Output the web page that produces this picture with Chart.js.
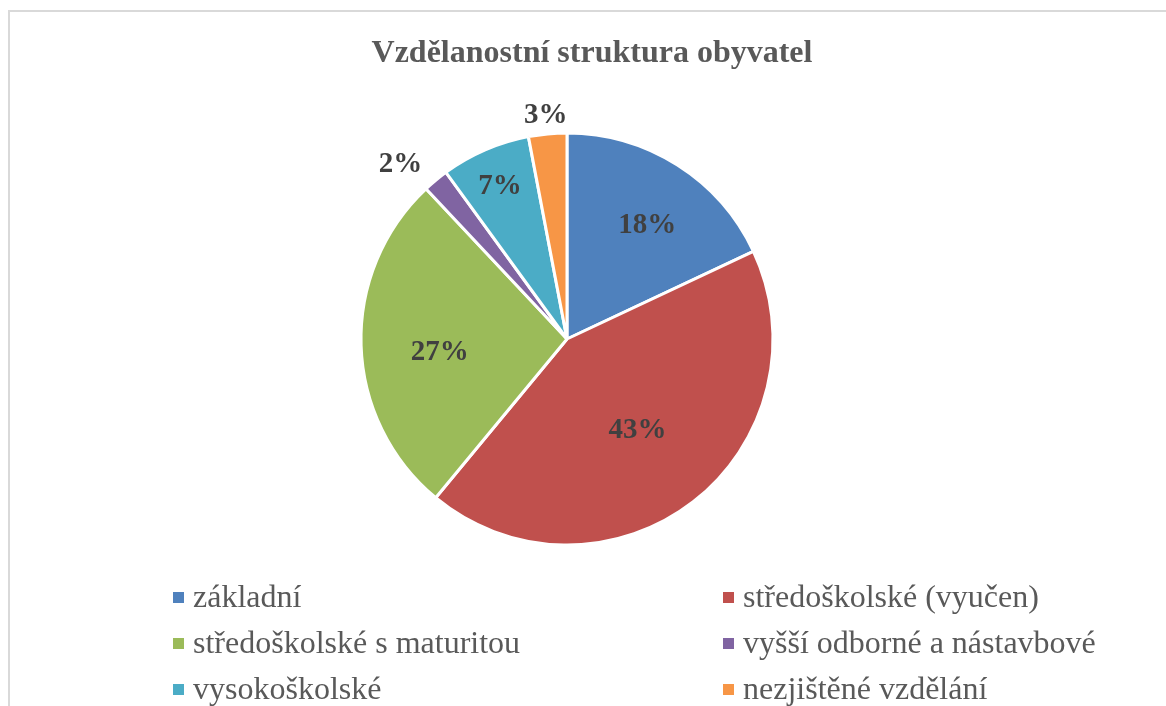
<!DOCTYPE html>
<html>
<head>
<meta charset="utf-8">
<script src="https://cdn.jsdelivr.net/npm/chart.js@4.4.1/dist/chart.umd.min.js"></script>
<style>
    html, body { margin: 0; padding: 0; background: #fff; overflow: hidden; }
    #wrap { position: relative; width: 1166px; height: 706px; }
</style>
</head>
<body>
<div id="wrap"><canvas id="edu-chart"></canvas></div>
<script>
const chartTitle = 'Vzdělanostní struktura obyvatel';
const categories = [
    'základní',
    'středoškolské (vyučen)',
    'středoškolské s maturitou',
    'vyšší odborné a nástavbové',
    'vysokoškolské',
    'nezjištěné vzdělání'
];
const shares = [18, 43, 27, 2, 7, 3];
const sliceColors = ['#4F81BD', '#C0504D', '#9BBB59', '#8064A2', '#4BACC6', '#F79646'];

// where each percent label sits: fraction of radius, and small angle nudge (deg)
const labelRadius = [0.685, 0.55, 0.62, 1.18, 0.82, 1.10];
const labelAngleShift = [2.2, -0.7, -3.2, -3.6, 0, 0];

const decorPlugin = {
    id: 'decor',
    beforeDraw(chart) {
        const ctx = chart.ctx;
        ctx.save();
        ctx.strokeStyle = '#d9d9d9';
        ctx.lineWidth = 2;
        ctx.beginPath();
        ctx.moveTo(9, chart.height);
        ctx.lineTo(9, 11);
        ctx.lineTo(chart.width, 11);
        ctx.stroke();
        ctx.restore();
    },
    afterDraw(chart) {
        const ctx = chart.ctx;
        ctx.save();

        // title
        ctx.fillStyle = '#595959';
        ctx.font = 'bold 32px "Liberation Serif", "Times New Roman", serif';
        ctx.textAlign = 'center';
        ctx.textBaseline = 'alphabetic';
        ctx.fillText(chartTitle, 592, 62);

        // percent labels
        const meta = chart.getDatasetMeta(0);
        ctx.fillStyle = '#404040';
        ctx.font = 'bold 29px "Liberation Serif", "Times New Roman", serif';
        meta.data.forEach((arc, i) => {
            const p = arc.getProps(['x', 'y', 'startAngle', 'endAngle', 'outerRadius'], true);
            const mid = (p.startAngle + p.endAngle) / 2 + labelAngleShift[i] * Math.PI / 180;
            const r = p.outerRadius * labelRadius[i];
            const lx = p.x + Math.cos(mid) * r;
            const ly = p.y + Math.sin(mid) * r;
            ctx.fillText(shares[i] + '%', lx, ly + 10);
        });

        // legend, two columns
        ctx.font = '32px "Liberation Serif", "Times New Roman", serif';
        ctx.textAlign = 'left';
        const colors = chart.data.datasets[0].backgroundColor;
        chart.data.labels.forEach((label, i) => {
            const col = i % 2;
            const row = Math.floor(i / 2);
            const bx = 173 + col * 550;
            const by = 592 + row * 46;
            ctx.fillStyle = colors[i];
            ctx.fillRect(bx, by, 11, 11);
            ctx.fillStyle = '#595959';
            ctx.fillText(label, bx + 20, by + 15);
        });

        ctx.restore();
    }
};

const ctx = document.getElementById('edu-chart').getContext('2d');
new Chart(ctx, {
    type: 'pie',
    data: {
        labels: categories,
        datasets: [{
            data: shares,
            backgroundColor: sliceColors,
            borderColor: '#ffffff',
            borderWidth: 3
        }]
    },
    options: {
        responsive: true,
        maintainAspectRatio: false,
        animation: false,
        radius: 206,
        layout: { padding: { left: 100, right: 132, top: 100, bottom: 128 } },
        plugins: {
            legend: { display: false },
            title: { display: false },
            tooltip: { enabled: false }
        }
    },
    plugins: [decorPlugin]
});
</script>
</body>
</html>
